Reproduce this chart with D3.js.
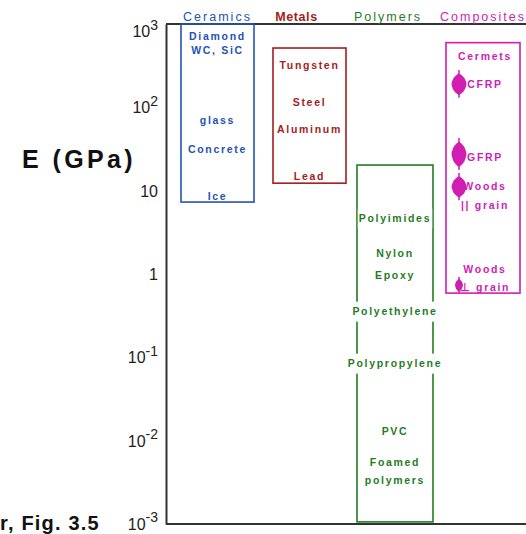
<!DOCTYPE html>
<html>
<head>
<meta charset="utf-8">
<script src="https://cdn.jsdelivr.net/npm/d3@7"></script>
<style>
  html, body { margin: 0; padding: 0; background: #fff; }
  svg { display: block; }
</style>
</head>
<body>
<svg id="chart" width="526" height="534"></svg>
<script>
// ---------- data ----------
const categories = ["Ceramics", "Metals", "Polymers", "Composites"];
const rangeLow  = [7.3, 12.3, 0.00106, 0.59];
const rangeHigh = [1000, 515, 20.3, 597];

const ceramicsLabels = ["Diamond", "WC, SiC", "glass", "Concrete", "Ice"];
const ceramicsE      = [718, 488, 70, 31, 8.6];

const metalsLabels = ["Tungsten", "Steel", "Aluminum", "Lead"];
const metalsE      = [322, 116, 55, 15];

const polymersLabels = ["Polyimides", "Nylon", "Epoxy", "Polyethylene", "Polypropylene", "PVC", "Foamed", "polymers"];
const polymersE      = [4.7, 1.79, 0.97, 0.36, 0.0855, 0.0131, 0.00555, 0.00337];

const compositesLabels = ["Cermets", "CFRP", "GFRP", "Woods", "|| grain", "Woods", "\u22A5 grain"];
const compositesE      = [413, 190, 25, 11.4, 6.7, 1.15, 0.70];

const markerNames = ["CFRP", "GFRP", "Woods ||", "Woods \u22A5"];
const markerLow   = [130, 17.7, 7.7, 0.59];
const markerHigh  = [280, 43, 16.3, 0.92];

const tickValues = [1e-3, 1e-2, 1e-1, 1, 10, 1e2, 1e3];
const yTitle = "E (GPa)";
const caption = "r, Fig. 3.5";

// ---------- styles ----------
const colors = ["#2353b6", "#a51d1d", "#1f7d1f", "#d01db2"];
const axisColor = "#333";

const svg = d3.select("#chart");
const W = 526, H = 534;

const y = d3.scaleLog().domain([1e-3, 1e3]).range([524, 24]);
const xc = d3.scaleOrdinal().domain(categories).range([217.5, 309.5, 395, 483]);
const boxWidths = [73, 73, 76, 74];

// axes
const axisX = 166;
const gAxis = svg.append("g").attr("transform", `translate(${axisX},0)`)
  .call(d3.axisLeft(y).tickValues(tickValues).tickSize(0).tickSizeOuter(0).tickPadding(8).tickFormat(d => d));
gAxis.select(".domain").attr("stroke", axisColor).attr("stroke-width", 2);
gAxis.selectAll(".tick text").each(function(d) {
  const t = d3.select(this);
  const e = Math.round(Math.log10(d));
  t.text(null)
   .attr("font-family", "Liberation Sans, Arial, sans-serif")
   .attr("font-size", 16)
   .attr("fill", "#222")
   .attr("dy", e === 3 ? "0.8em" : "0.35em");
  if (e === 0) { t.append("tspan").text("1"); }
  else if (e === 1) { t.append("tspan").text("10"); }
  else {
    t.append("tspan").text("10");
    t.append("tspan").attr("font-size", 14).attr("dy", "-0.55em").text(String(e));
  }
});

svg.append("line").attr("x1", axisX).attr("x2", W).attr("y1", y(1e3)).attr("y2", y(1e3))
  .attr("stroke", axisColor).attr("stroke-width", 2);
svg.append("line").attr("x1", axisX).attr("x2", W).attr("y1", y(1e-3)).attr("y2", y(1e-3))
  .attr("stroke", axisColor).attr("stroke-width", 2);

// headers
const headerNudge = [0, -13, -7, 0];
svg.selectAll("text.header").data(categories).join("text")
  .attr("class", "header")
  .attr("x", (d, i) => xc(d) + headerNudge[i])
  .attr("y", 21)
  .attr("text-anchor", "middle")
  .attr("font-family", "Liberation Sans, Arial, sans-serif")
  .attr("font-size", 12.5)
  .attr("letter-spacing", (d, i) => i === 1 ? "0.6px" : "2px")
  .attr("font-weight", (d, i) => i === 1 ? "bold" : "normal")
  .attr("fill", (d, i) => colors[i])
  .text(d => d);

// boxes
svg.selectAll("rect.box").data(categories).join("rect")
  .attr("class", "box")
  .attr("x", (d, i) => xc(d) - boxWidths[i] / 2)
  .attr("width", (d, i) => boxWidths[i])
  .attr("y", (d, i) => y(rangeHigh[i]))
  .attr("height", (d, i) => y(rangeLow[i]) - y(rangeHigh[i]))
  .attr("fill", "none")
  .attr("stroke", (d, i) => colors[i])
  .attr("stroke-width", 1.6);

// composites markers
const compX = xc("Composites") - boxWidths[3] / 2 + 13;
const gm = svg.append("g");
markerNames.forEach((n, i) => {
  const t = y(markerHigh[i]), b = y(markerLow[i]);
  const h = b - t, m = (t + b) / 2;
  const hw = h < 20 ? 4 : 7.5;
  gm.append("line").attr("x1", compX).attr("x2", compX).attr("y1", t).attr("y2", b)
    .attr("stroke", colors[3]).attr("stroke-width", 1.5);
  const pts = [
    [compX, t + h * 0.12], [compX + hw * 0.7, t + h * 0.28], [compX + hw, m],
    [compX + hw * 0.7, b - h * 0.26], [compX, b - h * 0.1],
    [compX - hw * 0.7, b - h * 0.26], [compX - hw, m], [compX - hw * 0.7, t + h * 0.28]
  ];
  gm.append("path").attr("d", d3.line().curve(d3.curveCardinalClosed.tension(0.4))(pts))
    .attr("fill", colors[3]);
});

// material labels
const groups = [
  [ceramicsLabels, ceramicsE],
  [metalsLabels, metalsE],
  [polymersLabels, polymersE],
  [compositesLabels, compositesE]
];
groups.forEach(([labels, vals], ci) => {
  const cx = xc(categories[ci]);
  const bw = boxWidths[ci];
  const g = svg.append("g");
  labels.forEach((lab, j) => {
    const bg = g.append("rect").attr("fill", "#fff");
    const t = g.append("text")
      .attr("x", ci === 3 ? cx + 2 : cx)
      .attr("y", y(vals[j]))
      .attr("dy", "0.35em")
      .attr("text-anchor", "middle")
      .attr("font-family", "Liberation Sans, Arial, sans-serif")
      .attr("font-size", 10.5)
      .attr("font-weight", "bold")
      .attr("letter-spacing", "1.7px")
      .attr("fill", colors[ci])
      .text(lab);
    const bb = t.node().getBBox();
    if (bb.width > bw - 4) {
      bg.attr("x", bb.x - 1).attr("y", bb.y - 3).attr("width", bb.width + 2).attr("height", bb.height + 8);
    } else { bg.remove(); }
  });
});

// titles
svg.append("text")
  .attr("x", 22).attr("y", 168)
  .attr("font-family", "Liberation Sans, Arial, sans-serif")
  .attr("font-size", 25)
  .attr("font-weight", "bold")
  .attr("letter-spacing", "3.4px")
  .attr("fill", "#111")
  .text(yTitle);

svg.append("text")
  .attr("x", 0).attr("y", 530)
  .attr("font-family", "Liberation Sans, Arial, sans-serif")
  .attr("font-size", 20)
  .attr("font-weight", "bold")
  .attr("letter-spacing", "1.2px")
  .attr("fill", "#111")
  .text(caption);
</script>
</body>
</html>
